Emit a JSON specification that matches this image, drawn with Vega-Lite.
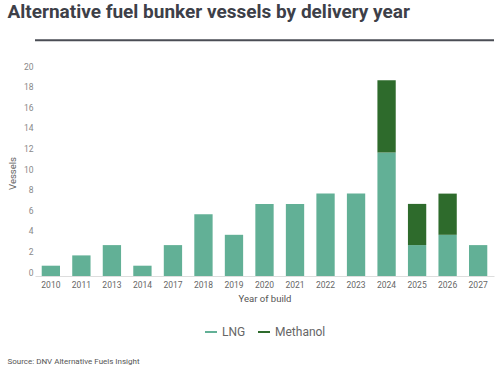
{
  "$schema": "https://vega.github.io/schema/vega-lite/v6.json",
  "padding": {"left": 7, "top": 3, "right": 3, "bottom": 2},
  "background": "white",
  "config": {"view": {"stroke": null}, "font": "Roboto", "concat": {"spacing": 0}, "legend": {"layout": {"bottom": {"anchor": "middle"}}}},
  "title": {"text": "Alternative fuel bunker vessels by delivery year", "anchor": "start", "fontSize": 19, "font": "Roboto", "fontWeight": "bold", "color": "#3d4048", "offset": 17},
  "resolve": {"legend": {"color": "independent"}},
  "vconcat": [
    {
      "width": 459,
      "height": 206,
      "title": {"text": "Source: DNV Alternative Fuels Insight", "orient": "bottom", "anchor": "start", "fontSize": 8, "fontWeight": "normal", "color": "#555555", "offset": 20},
      "data": {
        "values": [
          {"year": "2010", "fuel": "LNG", "vessels": 1},
          {"year": "2011", "fuel": "LNG", "vessels": 2},
          {"year": "2013", "fuel": "LNG", "vessels": 3},
          {"year": "2014", "fuel": "LNG", "vessels": 1},
          {"year": "2017", "fuel": "LNG", "vessels": 3},
          {"year": "2018", "fuel": "LNG", "vessels": 6},
          {"year": "2019", "fuel": "LNG", "vessels": 4},
          {"year": "2020", "fuel": "LNG", "vessels": 7},
          {"year": "2021", "fuel": "LNG", "vessels": 7},
          {"year": "2022", "fuel": "LNG", "vessels": 8},
          {"year": "2023", "fuel": "LNG", "vessels": 8},
          {"year": "2024", "fuel": "LNG", "vessels": 12},
          {"year": "2025", "fuel": "LNG", "vessels": 3},
          {"year": "2026", "fuel": "LNG", "vessels": 4},
          {"year": "2027", "fuel": "LNG", "vessels": 3},
          {"year": "2024", "fuel": "Methanol", "vessels": 7},
          {"year": "2025", "fuel": "Methanol", "vessels": 4},
          {"year": "2026", "fuel": "Methanol", "vessels": 4}
        ]
      },
      "layer": [
        {
          "mark": {"type": "bar"},
          "encoding": {
            "x": {
              "field": "year", "type": "ordinal", "title": "Year of build",
              "scale": {"paddingInner": 0.4, "paddingOuter": 0.22},
              "axis": {"labelAngle": 0, "ticks": false, "domainColor": "#dddddd", "labelColor": "#666666", "labelFontSize": 8.5, "labelPadding": 4, "titleFontSize": 9.5, "titleFontWeight": "normal", "titleColor": "#555555", "titlePadding": 5}
            },
            "y": {
              "field": "vessels", "type": "quantitative", "title": "Vessels",
              "scale": {"domain": [0, 20]},
              "axis": {"values": [0, 2, 4, 6, 8, 10, 12, 14, 16, 18, 20], "labelOverlap": false, "grid": false, "ticks": false, "domain": false, "labelColor": "#888888", "labelFontSize": 8.5, "labelPadding": 2, "labelOffset": -4, "titleFontSize": 9.5, "titleFontWeight": "normal", "titleColor": "#666666", "titlePadding": 6}
            },
            "color": {
              "field": "fuel", "type": "nominal",
              "scale": {"domain": ["LNG", "Methanol"], "range": ["#62b096", "#2e6b2c"]},
              "legend": {"orient": "bottom", "direction": "horizontal", "title": null, "symbolType": "stroke", "symbolStrokeWidth": 2, "symbolSize": 144, "labelFontSize": 12, "labelColor": "#666666", "offset": 22, "columnPadding": 8,
                "encode": {"symbols": {"update": {"stroke": {"scale": "color", "field": "value"}, "strokeWidth": {"value": 2}, "fill": {"value": "transparent"}}}}}
            },
            "order": {"field": "fuel", "sort": "ascending"}
          }
        },
        {
          "data": {"values": [{"k": 1}]},
          "mark": {"type": "rule", "color": "#4a4d55", "strokeWidth": 2},
          "encoding": {
            "y": {"datum": 22.9, "type": "quantitative", "title": "Vessels",
              "axis": {"values": [0, 2, 4, 6, 8, 10, 12, 14, 16, 18, 20], "labelOverlap": false, "grid": false, "ticks": false, "domain": false, "labelColor": "#888888", "labelFontSize": 8.5, "labelPadding": 2, "labelOffset": -4, "titleFontSize": 9.5, "titleFontWeight": "normal", "titleColor": "#666666", "titlePadding": 6}}
          }
        }
      ]
    }
  ]
}
